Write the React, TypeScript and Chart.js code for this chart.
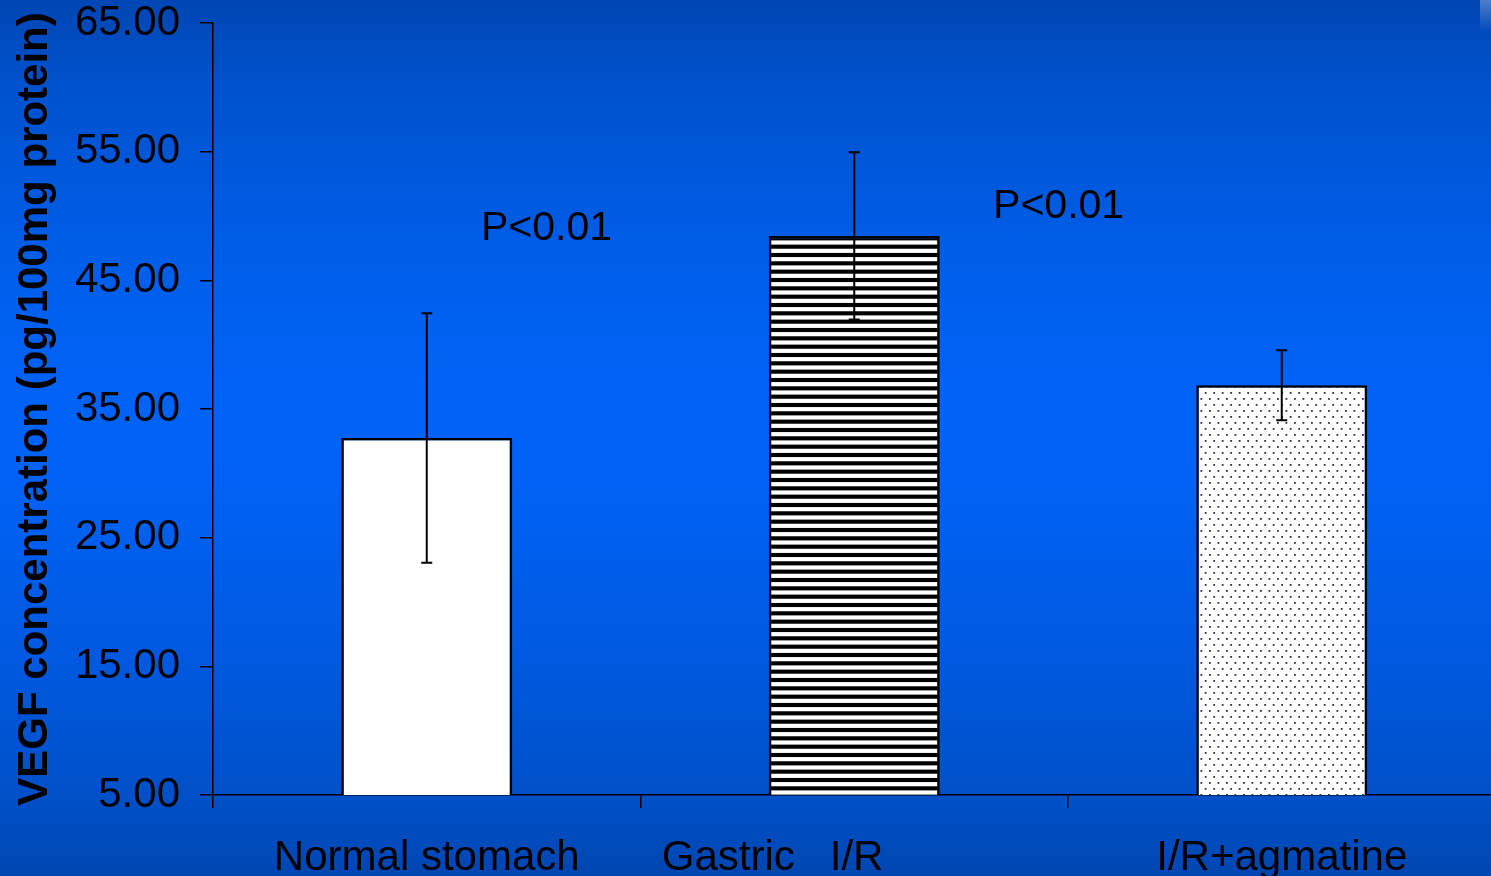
import React, { useEffect, useRef } from "react";
import { Chart, registerables } from "chart.js";

Chart.register(...registerables);

const categories = ["Normal stomach", "Gastric   I/R              ", "I/R+agmatine"];
const means = [32.75, 48.45, 36.85];
const errors = [9.7, 6.5, 2.72];
const yTickValues = [5, 15, 25, 35, 45, 55, 65];
const annotationLabels = ["P<0.01", "P<0.01"];
const annotationX = [0.28, 1.478];
const annotationY = [49.0, 50.7];
const yTitle = "VEGF concentration (pg/100mg protein)";

const FONT = "'Liberation Sans', Arial, Helvetica, sans-serif";

function makeStripes(): CanvasPattern | string {
  const c = document.createElement("canvas");
  c.width = 8;
  c.height = 25;
  const ctx = c.getContext("2d");
  if (!ctx) return "#000";
  ctx.fillStyle = "#000";
  ctx.fillRect(0, 0, 8, 25);
  ctx.fillStyle = "#fff";
  const period = 25 / 3;
  for (let k = -1; k <= 3; k++) {
    const cy = 0.833 + period * k;
    ctx.fillRect(0, cy - 2.1, 8, 4.2);
  }
  return ctx.createPattern(c, "repeat") || "#000";
}

function makeDots(): CanvasPattern | string {
  const c = document.createElement("canvas");
  c.width = 17;
  c.height = 12;
  const ctx = c.getContext("2d");
  if (!ctx) return "#fff";
  ctx.fillStyle = "#fff";
  ctx.fillRect(0, 0, 17, 12);
  ctx.fillStyle = "#333";
  ctx.fillRect(2, 2, 1.8, 1.8);
  ctx.fillRect(10.5, 2, 1.8, 1.8);
  ctx.fillRect(6.25, 8, 1.8, 1.8);
  ctx.fillRect(14.75, 8, 1.8, 1.8);
  return ctx.createPattern(c, "repeat") || "#fff";
}

const errorBarPlugin = {
  id: "errorBars",
  afterDatasetsDraw(chart: any) {
    const { ctx } = chart;
    const yScale = chart.scales.y;
    const meta = chart.getDatasetMeta(0);
    ctx.save();
    ctx.strokeStyle = "#000";
    ctx.lineWidth = 2;
    meta.data.forEach((bar: any, i: number) => {
      const x = bar.x;
      const yTop = yScale.getPixelForValue(means[i] + errors[i]);
      const yBot = yScale.getPixelForValue(means[i] - errors[i]);
      ctx.beginPath();
      ctx.moveTo(x, yTop);
      ctx.lineTo(x, yBot);
      ctx.moveTo(x - 5.5, yTop);
      ctx.lineTo(x + 5.5, yTop);
      ctx.moveTo(x - 5.5, yBot);
      ctx.lineTo(x + 5.5, yBot);
      ctx.stroke();
    });
    ctx.restore();
  },
};

const annotationPlugin = {
  id: "pAnnotations",
  afterDraw(chart: any) {
    const { ctx } = chart;
    const xScale = chart.scales.x;
    const yScale = chart.scales.y;
    ctx.save();
    ctx.fillStyle = "#000";
    ctx.font = `41px ${FONT}`;
    ctx.textAlign = "center";
    ctx.textBaseline = "middle";
    annotationLabels.forEach((t, i) => {
      ctx.fillText(t, xScale.getPixelForValue(annotationX[i]), yScale.getPixelForValue(annotationY[i]));
    });
    ctx.restore();
  },
};

export default function App() {
  const ref = useRef<HTMLCanvasElement | null>(null);

  useEffect(() => {
    document.body.style.margin = "0";
    document.documentElement.style.overflow = "hidden";
    const canvas = ref.current;
    if (!canvas) return;
    const chart = new Chart(canvas, {
      type: "bar",
      data: {
        labels: categories,
        datasets: [
          {
            data: means,
            backgroundColor: ["#ffffff", makeStripes(), makeDots()] as any,
            borderColor: "#000",
            borderWidth: 2.6,
            borderSkipped: false,
            barPercentage: 0.4,
            categoryPercentage: 1,
          },
        ],
      },
      options: {
        animation: false,
        responsive: false,
        events: [],
        layout: { padding: { left: 0, top: 23, right: 4.5, bottom: 0 } },
        plugins: { legend: { display: false }, tooltip: { enabled: false } },
        scales: {
          x: {
            grid: { drawOnChartArea: false, drawTicks: true, tickLength: 13, color: "#000", lineWidth: 1.5, offset: true },
            border: { display: true, color: "#000", width: 1.5 },
            ticks: {
              color: "#000",
              font: { family: FONT, size: 42, lineHeight: 1 },
              padding: 29,
              maxRotation: 0,
              autoSkip: false,
            },
            afterFit(scale: any) {
              scale.height = 81;
              scale.paddingLeft = 0;
              scale.paddingRight = 0;
            },
          },
          y: {
            min: 5,
            max: 65,
            afterBuildTicks(scale: any) {
              scale.ticks = yTickValues.map((v) => ({ value: v }));
            },
            grid: { drawOnChartArea: false, drawTicks: true, tickLength: 13, color: "#000", lineWidth: 1.5 },
            border: { display: true, color: "#000", width: 1.5 },
            ticks: {
              color: "#000",
              font: { family: FONT, size: 42, lineHeight: 1 },
              padding: 20,
              callback: (v: any) => Number(v).toFixed(2),
            },
            title: {
              display: true,
              text: yTitle,
              color: "#000",
              font: { family: FONT, size: 42, weight: "bold", lineHeight: 1 },
              padding: { top: 14, bottom: 0 },
            },
            afterFit(scale: any) {
              scale.width = 213;
              scale.paddingTop = 0;
              scale.paddingBottom = 0;
            },
          },
        },
      },
      plugins: [errorBarPlugin, annotationPlugin],
    });
    return () => chart.destroy();
  }, []);

  return (
    <div
      style={{
        position: "relative",
        width: 1491,
        height: 876,
        overflow: "hidden",
        background:
          "linear-gradient(to bottom, #0046B4 0%, #0052CE 10%, #005EEA 30%, #0063F8 45%, #0062F6 55%, #0059E0 75%, #0050C8 91%, #0046B2 100%)",
      }}
    >
      <canvas ref={ref} width={1500} height={876} style={{ display: "block", width: 1500, height: 876 }} />
      <div
        style={{
          position: "absolute",
          right: 0,
          top: 0,
          width: 11,
          height: 32,
          background: "linear-gradient(to bottom, rgba(255,255,255,0.3), rgba(255,255,255,0))",
        }}
      />
    </div>
  );
}
